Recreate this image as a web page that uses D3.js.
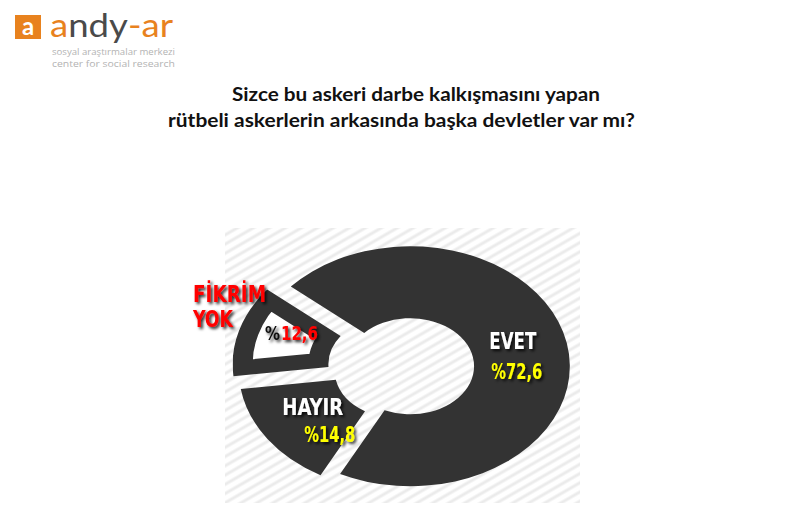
<!DOCTYPE html>
<html>
<head>
<meta charset="utf-8">
<script src="https://cdn.jsdelivr.net/npm/d3@7"></script>
<style>
  body { margin: 0; background: #fff; }
  svg { display: block; }
</style>
</head>
<body>
<svg id="chart"></svg>
<script>
const categories = ["EVET", "HAYIR", "FİKRİM YOK"];
const values = [72.6, 14.8, 12.6];
const valueLabels = ["%72,6", "%14,8", "%12,6"];
const titleLines = [
  "Sizce bu askeri darbe kalkışmasını yapan",
  "rütbeli askerlerin arkasında başka devletler var mı?"
];

document.addEventListener('DOMContentLoaded', () => {
  const width = 787;
  const height = 529;
  const cx = 405, cy = 367;   // donut centre
  const sx = 1.33;            // donut is drawn as an ellipse
  const outerR = 120, innerR = 48;
  const dark = '#333333';
  const labelFont = '"DejaVu Sans Condensed", "Liberation Sans Narrow", sans-serif';

  const svg = d3.select('#chart')
    .attr('width', width)
    .attr('height', height);

  const defs = svg.append('defs');

  // light diagonal stripes behind the donut
  const pat = defs.append('pattern')
    .attr('id', 'stripes')
    .attr('patternUnits', 'userSpaceOnUse')
    .attr('width', 8).attr('height', 8)
    .attr('patternTransform', 'rotate(-30)');
  pat.append('rect').attr('width', 8).attr('height', 8).attr('fill', '#fff');
  pat.append('line')
    .attr('x1', 0).attr('y1', 4).attr('x2', 8).attr('y2', 4)
    .attr('stroke', '#ebebeb').attr('stroke-width', 3);

  const shadow = defs.append('filter').attr('id', 'shadow')
    .attr('x', '-20%').attr('y', '-30%').attr('width', '150%').attr('height', '170%');
  shadow.append('feDropShadow')
    .attr('dx', 2).attr('dy', 2).attr('stdDeviation', 1.6)
    .attr('flood-color', '#000').attr('flood-opacity', 0.85);

  // ---- logo ----
  const logo = svg.append('g');
  logo.append('rect')
    .attr('x', 15).attr('y', 15).attr('width', 26).attr('height', 24)
    .attr('fill', '#e8821e');
  logo.append('text')
    .attr('x', 28).attr('y', 35)
    .attr('text-anchor', 'middle')
    .attr('font-family', 'Lato, sans-serif').attr('font-weight', 700)
    .attr('font-size', 24).attr('fill', '#fff')
    .text('a');
  const brand = logo.append('text')
    .attr('x', 50).attr('y', 37)
    .attr('font-family', 'Lato, sans-serif').attr('font-weight', 400)
    .attr('font-size', 32)
    .attr('textLength', 123).attr('lengthAdjust', 'spacingAndGlyphs');
  brand.append('tspan').attr('fill', '#e8821e').text('a');
  brand.append('tspan').attr('fill', '#4a4a4a').text('ndy');
  brand.append('tspan').attr('fill', '#e8821e').text('-ar');
  logo.append('text')
    .attr('x', 52).attr('y', 55)
    .attr('font-family', '"Open Sans", sans-serif').attr('font-size', 9.5)
    .attr('fill', '#b3b3b3')
    .attr('textLength', 123).attr('lengthAdjust', 'spacingAndGlyphs')
    .text('sosyal araştırmalar merkezi');
  logo.append('text')
    .attr('x', 52).attr('y', 67)
    .attr('font-family', '"Open Sans", sans-serif').attr('font-size', 9.5)
    .attr('fill', '#b3b3b3')
    .attr('textLength', 123).attr('lengthAdjust', 'spacingAndGlyphs')
    .text('center for social research');

  // ---- title ----
  const titleX = [[232, 368], [168, 467]];
  const titleY = [101, 127];
  svg.selectAll('.title')
    .data(titleLines)
    .enter().append('text')
    .attr('class', 'title')
    .attr('x', (d, i) => titleX[i][0])
    .attr('y', (d, i) => titleY[i])
    .attr('textLength', (d, i) => titleX[i][1])
    .attr('lengthAdjust', 'spacingAndGlyphs')
    .attr('font-family', 'Lato, sans-serif').attr('font-weight', 700)
    .attr('font-size', 19).attr('fill', '#111')
    .text(d => d);

  // ---- striped backdrop ----
  svg.append('rect')
    .attr('x', 225).attr('y', 228).attr('width', 355).attr('height', 275)
    .attr('fill', 'url(#stripes)');

  // ---- donut ----
  const start = -50 * Math.PI / 180;
  const pie = d3.pie()
    .sort(null)
    .startAngle(start)
    .endAngle(start + 2 * Math.PI)
    .padAngle(0.055);
  const arcs = pie(values);

  const arc = d3.arc()
    .innerRadius(innerR)
    .outerRadius(outerR)
    .padRadius(outerR);

  const explode = [4, 6, 10];

  const sliceOffset = (d, i) => {
    const mid = (d.startAngle + d.endAngle) / 2;
    return [explode[i] * Math.sin(mid), -explode[i] * Math.cos(mid)];
  };

  const slices = svg.selectAll('.slice')
    .data(arcs)
    .enter().append('g')
    .attr('class', 'slice')
    .attr('transform', (d, i) => {
      const [dx, dy] = sliceOffset(d, i);
      return `translate(${cx + dx * sx}, ${cy + dy}) scale(${sx}, 1)`;
    });

  slices.each(function(d, i) {
    const g = d3.select(this);
    if (i === 2) {
      // the "no opinion" slice is drawn as a thick outline
      defs.append('clipPath').attr('id', 'clip-fikrim')
        .append('path').attr('d', arc(d));
      g.append('path').attr('d', arc(d)).attr('fill', '#fff');
      g.append('path').attr('d', arc(d))
        .attr('fill', 'none')
        .attr('stroke', dark)
        .attr('stroke-width', 30)
        .attr('clip-path', 'url(#clip-fikrim)');
    } else {
      g.append('path').attr('d', arc(d)).attr('fill', dark);
    }
  });

  // screen position of each slice centroid
  const centre = arcs.map((d, i) => {
    const [x, y] = arc.centroid(d);
    const [dx, dy] = sliceOffset(d, i);
    return [cx + (x + dx) * sx, cy + y + dy];
  });

  // ---- labels ----
  const labelText = (x, y, size, fill, anchor, len) => svg.append('text')
    .attr('x', x).attr('y', y)
    .attr('text-anchor', anchor)
    .attr('font-family', labelFont).attr('font-weight', 700)
    .attr('font-size', size).attr('fill', fill)
    .attr('textLength', len).attr('lengthAdjust', 'spacingAndGlyphs')
    .attr('filter', 'url(#shadow)');

  // EVET
  labelText(centre[0][0] - 7, centre[0][1] - 1, 23, '#fff', 'middle', 47).text(categories[0]);
  labelText(centre[0][0] - 3, centre[0][1] + 29, 21, '#ffff00', 'middle', 51).text(valueLabels[0]);

  // HAYIR
  labelText(centre[1][0] + 6, centre[1][1] - 3, 23, '#fff', 'middle', 61).text(categories[1]);
  labelText(centre[1][0] + 23, centre[1][1] + 24, 21, '#ffff00', 'middle', 51).text(valueLabels[1]);

  // FİKRİM YOK (outside, left)
  const words = categories[2].split(' ');
  labelText(193, 302, 23, '#ff0000', 'start', 73).text(words[0]);
  labelText(193, 327, 23, '#ff0000', 'start', 40).text(words[1]);

  // "%12,6": the percent sign is black, the number red
  labelText(265, 340, 19, '#111', 'start', 15).text(valueLabels[2].slice(0, 1));
  labelText(281, 340, 19, '#ff0000', 'start', 37).text(valueLabels[2].slice(1));
});
</script>
</body>
</html>
